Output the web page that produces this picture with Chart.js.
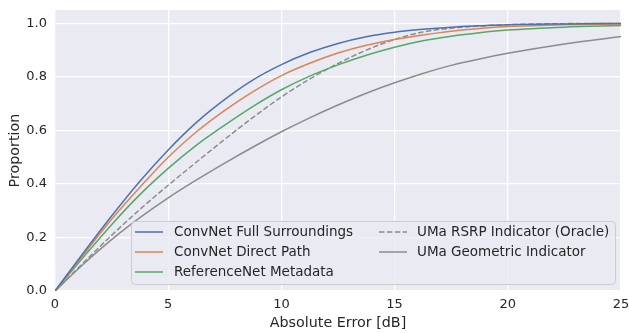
<!DOCTYPE html>
<html>
<head>
<meta charset="utf-8">
<script src="https://cdn.jsdelivr.net/npm/chart.js@4.4.1/dist/chart.umd.min.js"></script>
<style>
  html, body { margin: 0; padding: 0; background: #ffffff; }
  #wrap { width: 629px; height: 333px; }
</style>
</head>
<body>
<div id="wrap"><canvas id="c" width="629" height="333"></canvas></div>
<script>
// Absolute error (dB) sample positions shared by every curve
const errorDb = [0, 1.25, 2.5, 3.75, 5, 6.25, 7.5, 8.75, 10, 11.25, 12.5, 13.75, 15, 16.25, 17.5, 18.75, 20, 22.5, 25];

// Cumulative proportion of samples below each error
const convFull    = [0, 0.142, 0.280, 0.410, 0.527, 0.630, 0.716, 0.789, 0.846, 0.891, 0.925, 0.950, 0.967, 0.978, 0.986, 0.991, 0.995, 0.998, 1.000];
const convDirect  = [0, 0.135, 0.268, 0.388, 0.500, 0.595, 0.675, 0.745, 0.805, 0.851, 0.889, 0.918, 0.940, 0.957, 0.971, 0.981, 0.988, 0.995, 0.998];
const refMetadata = [0, 0.126, 0.248, 0.360, 0.458, 0.545, 0.620, 0.690, 0.752, 0.803, 0.845, 0.881, 0.911, 0.935, 0.952, 0.965, 0.975, 0.986, 0.992];
const rsrpOracle  = [0, 0.105, 0.208, 0.305, 0.395, 0.482, 0.567, 0.649, 0.725, 0.792, 0.850, 0.900, 0.940, 0.968, 0.982, 0.990, 0.995, 0.999, 1.000];
const geometric   = [0, 0.100, 0.192, 0.274, 0.348, 0.415, 0.478, 0.538, 0.595, 0.647, 0.695, 0.739, 0.778, 0.813, 0.843, 0.867, 0.888, 0.923, 0.951];

const seriesNames = [
  'ConvNet Full Surroundings',
  'ConvNet Direct Path',
  'ReferenceNet Metadata',
  'UMa RSRP Indicator (Oracle)',
  'UMa Geometric Indicator'
];
const xTicks = [0, 5, 10, 15, 20, 25];
const yTicks = [0, 0.2, 0.4, 0.6, 0.8, 1.0];

const colors = ['#4c72b0', '#dd8452', '#55a868', '#8c8c8c', '#8c8c8c'];
const dashes = [[], [], [], [5.5, 2.4], []];
const allSeries = [convFull, convDirect, refMetadata, rsrpOracle, geometric];

const toPoints = ys => ys.map((y, i) => ({ x: errorDb[i], y }));

const datasets = allSeries.map((ys, i) => ({
  label: seriesNames[i],
  data: toPoints(ys),
  borderColor: colors[i],
  borderWidth: 1.5,
  borderDash: dashes[i],
  pointRadius: 0,
  fill: false,
  cubicInterpolationMode: 'monotone'
}));

const textColor = '#262626';
const tickFont = { family: 'DejaVu Sans', size: 13 };
const titleFont = { family: 'DejaVu Sans', size: 14.3, lineHeight: 1 };

// Grey plotting panel behind the grid
const panel = {
  id: 'panel',
  beforeDraw(chart) {
    const { ctx, chartArea: a } = chart;
    ctx.save();
    ctx.fillStyle = '#ffffff';
    ctx.fillRect(0, 0, chart.width, chart.height);
    ctx.fillStyle = '#eaeaf2';
    ctx.fillRect(a.left, a.top, a.right - a.left, a.bottom - a.top);
    ctx.restore();
  }
};

// Two-column framed legend in the lower right of the panel
const boxLegend = {
  id: 'boxLegend',
  afterDraw(chart) {
    const { ctx } = chart;
    const x0 = 131, y0 = 221, w = 484, h = 63, r = 4;
    ctx.save();
    ctx.beginPath();
    ctx.roundRect(x0 + 0.5, y0 + 0.5, w, h, r);
    ctx.fillStyle = 'rgba(234,234,242,0.8)';
    ctx.fill();
    ctx.strokeStyle = '#cccccc';
    ctx.lineWidth = 1;
    ctx.stroke();

    const rows = [232, 252, 272];
    const cols = [{ hx: 135, tx: 174 }, { hx: 379, tx: 417 }];
    ctx.font = '13.5px "DejaVu Sans"';
    ctx.textBaseline = 'middle';
    ctx.textAlign = 'left';
    chart.data.datasets.forEach((ds, i) => {
      const col = cols[i < 3 ? 0 : 1];
      const y = rows[i < 3 ? i : i - 3];
      ctx.beginPath();
      ctx.setLineDash(ds.borderDash || []);
      ctx.strokeStyle = ds.borderColor;
      ctx.lineWidth = 1.5;
      ctx.moveTo(col.hx, y);
      ctx.lineTo(col.hx + 28, y);
      ctx.stroke();
      ctx.setLineDash([]);
      ctx.fillStyle = textColor;
      ctx.fillText(ds.label, col.tx, y);
    });
    ctx.restore();
  }
};

new Chart(document.getElementById('c'), {
  type: 'line',
  data: { datasets },
  options: {
    responsive: false,
    animation: false,
    events: [],
    layout: { padding: { top: 10, right: 8, left: 0, bottom: 0 } },
    plugins: { legend: { display: false }, tooltip: { enabled: false } },
    scales: {
      x: {
        type: 'linear',
        min: 0,
        max: 25,
        afterBuildTicks: s => { s.ticks = xTicks.map(v => ({ value: v })); },
        afterFit: s => { s.height = 42; s.paddingLeft = 0; s.paddingRight = 0; },
        grid: { color: '#ffffff', lineWidth: 1.3, drawTicks: false },
        border: { display: false },
        ticks: { color: textColor, font: tickFont, padding: 6, autoSkip: false, maxRotation: 0 },
        title: { display: true, text: 'Absolute Error [dB]', color: textColor, font: titleFont, padding: { top: 0, bottom: 3 } }
      },
      y: {
        type: 'linear',
        min: 0,
        max: 1.05,
        afterBuildTicks: s => { s.ticks = yTicks.map(v => ({ value: v })); },
        afterFit: s => { s.width = 55; s.paddingTop = 0; s.paddingBottom = 0; },
        grid: { color: '#ffffff', lineWidth: 1.3, drawTicks: false },
        border: { display: false },
        ticks: { color: textColor, font: tickFont, padding: 8, callback: v => v.toFixed(1) },
        title: { display: true, text: 'Proportion', color: textColor, font: titleFont, padding: { top: 8.5, bottom: 0 } }
      }
    }
  },
  plugins: [panel, boxLegend]
});
</script>
</body>
</html>
